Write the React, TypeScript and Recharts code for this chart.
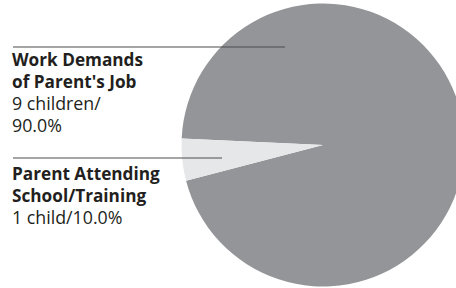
import { PieChart, Pie, Cell } from 'recharts';

// Reasons for care, as printed on the chart
const categoryLines: string[][] = [
  ['Work Demands', "of Parent's Job"],
  ['Parent Attending', 'School/Training'],
];
const countLines: string[][] = [
  ['9 children/', '90.0%'],
  ['1 child/10.0%'],
];
// Share of the circle each slice takes in the drawing (as measured)
const sliceShares = [95.2, 4.8];
const sliceColors = ['#939598', '#e6e7e8'];

const data = categoryLines.map((lines, i) => ({
  name: lines.join(' '),
  value: sliceShares[i],
}));

// label placement relative to the pie centre
const labelLayout = [
  { lineDy: -98, lineEndDx: -38, firstBaseline: -79 },
  { lineDy: 13, lineEndDx: -101, firstBaseline: 35 },
];
const TEXT_X = 12;
const LINE_H = 22;

const renderLabel = (props: any) => {
  const { cx, cy, index } = props;
  const l = labelLayout[index];
  const lineY = cy + l.lineDy;
  const rows = [
    ...categoryLines[index].map((t) => ({ t, bold: true })),
    ...countLines[index].map((t) => ({ t, bold: false })),
  ];
  return (
    <g key={`lbl-${index}`}>
      <line x1={TEXT_X + 1} y1={lineY} x2={cx + l.lineEndDx} y2={lineY} stroke="#4d4d4f" strokeWidth={1.2} />
      {rows.map((r, i) => (
        <text
          key={i}
          x={TEXT_X}
          y={cy + l.firstBaseline + i * LINE_H}
          fill="#231f20"
          fontSize={r.bold ? 17.2 : 17.8}
          fontWeight={r.bold ? 700 : 400}
          fontFamily="'Open Sans', sans-serif"
          textAnchor="start"
        >
          {r.t}
        </text>
      ))}
    </g>
  );
};

export default function App() {
  return (
    <div style={{ position: 'fixed', left: 0, top: 0, width: 456, height: 288, background: '#fff' }}>
      <PieChart width={456} height={288} margin={{ top: 0, right: 0, bottom: 0, left: 0 }}>
        <Pie
          data={data}
          dataKey="value"
          cx={323}
          cy={145}
          innerRadius={0}
          outerRadius={141.5}
          startAngle={194.6}
          endAngle={554.6}
          stroke="none"
          isAnimationActive={false}
          labelLine={false}
          label={renderLabel}
        >
          {data.map((d, i) => (
            <Cell key={d.name} fill={sliceColors[i]} />
          ))}
        </Pie>
      </PieChart>
    </div>
  );
}
